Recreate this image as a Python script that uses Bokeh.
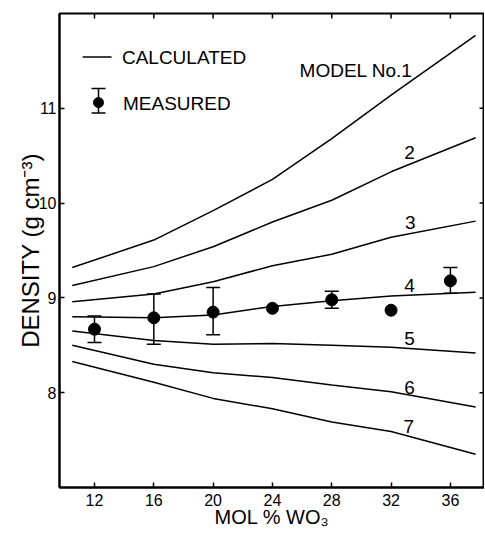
from bokeh.plotting import figure
from bokeh.models import Range1d, FixedTicker, Whisker, ColumnDataSource, TeeHead
from bokeh.core.properties import value
from bokeh.embed import file_html
from bokeh.resources import INLINE

# ---------------- data ----------------
mol = [10.5, 16, 20, 24, 28, 32, 37.7]
model_1 = [9.32, 9.61, 9.92, 10.25, 10.68, 11.14, 11.77]
model_2 = [9.13, 9.33, 9.54, 9.80, 10.03, 10.33, 10.69]
model_3 = [8.96, 9.04, 9.17, 9.34, 9.46, 9.64, 9.81]
model_4 = [8.80, 8.79, 8.82, 8.91, 8.97, 9.02, 9.06]
model_5 = [8.65, 8.55, 8.51, 8.52, 8.50, 8.48, 8.42]
model_6 = [8.50, 8.30, 8.21, 8.16, 8.08, 8.01, 7.85]
model_7 = [8.33, 8.11, 7.94, 7.83, 7.69, 7.59, 7.35]

meas_x = [12, 16, 20, 24, 28, 32, 36]
meas_y = [8.67, 8.79, 8.85, 8.89, 8.98, 8.87, 9.18]
err_lo = [8.53, 8.51, 8.61, None, 8.89, None, 9.05]
err_hi = [8.81, 9.04, 9.11, None, 9.07, None, 9.32]

x_ticks = [12, 16, 20, 24, 28, 32, 36]
y_ticks = [8, 9, 10, 11]

model_label_first = "MODEL No.1"
model_labels = ["2", "3", "4", "5", "6", "7"]
model_label_x = [33.25, 33.3, 33.25, 33.25, 33.25, 33.2]
model_label_y = [10.53, 9.80, 9.13, 8.57, 8.06, 7.64]

# ---------------- layout constants ----------------
FONT = "Liberation Sans"
X0, X1 = 9.64, 38.3
Y0, Y1 = 7.0, 12.0
FRAME_W, FRAME_H = 425, 474
TICK_PX = 5
LEG_LINE_X = [11.2, 13.15]
LEG_LINE_Y = 11.54
LEG_TEXT_X = 13.85
LEG_MARK_X = 12.27
LEG_MARK_Y = 11.06
LEG_MARK_LO = 10.95
LEG_MARK_HI = 11.21
LEG_TEXT2_Y = 11.05

p = figure(width=484, height=534,
           x_range=Range1d(X0, X1), y_range=Range1d(Y0, Y1),
           output_backend="svg", toolbar_location=None,
           min_border_left=59, min_border_top=13, min_border_right=0, min_border_bottom=47)
p.grid.visible = False
p.outline_line_color = "black"
p.outline_line_width = 2
p.background_fill_color = "white"
p.border_fill_color = "white"

for ax in [p.xaxis[0], p.yaxis[0]]:
    ax.axis_line_width = 2
    ax.axis_line_color = "black"
    ax.major_tick_in = TICK_PX
    ax.major_tick_out = 0
    ax.major_tick_line_width = 1.5
    ax.minor_tick_line_color = None
    ax.major_label_text_font = FONT
    ax.major_label_text_font_size = "16px"
    ax.major_label_text_color = "black"
    ax.axis_label_text_font = FONT
    ax.axis_label_text_font_style = "normal"
    ax.axis_label_text_color = "black"

p.xaxis.ticker = FixedTicker(ticks=x_ticks)
p.yaxis.ticker = FixedTicker(ticks=y_ticks)
p.xaxis.axis_label = "MOL % WO₃"
p.yaxis.axis_label = "DENSITY (g cm⁻³)"
p.xaxis.axis_label_text_font_size = "20px"
p.yaxis.axis_label_text_font_size = "24px"
p.xaxis.major_label_standoff = 6
p.xaxis.axis_label_standoff = -3
p.yaxis.major_label_standoff = 3
p.yaxis.axis_label_standoff = -8

# inward ticks on top and right frame edges, placed from the tick lists
dx = (X1 - X0) / FRAME_W * TICK_PX
dy = (Y1 - Y0) / FRAME_H * TICK_PX
p.segment(x0=x_ticks, x1=x_ticks, y0=[Y1] * len(x_ticks), y1=[Y1 - dy] * len(x_ticks),
          line_color="black", line_width=1.5)
p.segment(x0=[X1] * len(y_ticks), x1=[X1 - dx] * len(y_ticks), y0=y_ticks, y1=y_ticks,
          line_color="black", line_width=1.5)

for ys in [model_1, model_2, model_3, model_4, model_5, model_6, model_7]:
    p.line(mol, ys, line_color="black", line_width=1.5)

# measured
bars = [(x, lo, hi) for x, lo, hi in zip(meas_x, err_lo, err_hi) if lo is not None]
src = ColumnDataSource(dict(x=[b[0] for b in bars], lo=[b[1] for b in bars], hi=[b[2] for b in bars]))
p.add_layout(Whisker(source=src, base="x", lower="lo", upper="hi", dimension="height",
                     line_color="black", line_width=1.5,
                     upper_head=TeeHead(size=14, line_width=1.5, line_color="black"),
                     lower_head=TeeHead(size=14, line_width=1.5, line_color="black")))
p.scatter(meas_x, meas_y, size=12, marker="circle", fill_color="black", line_color="black")

# model labels
p.text([33.45], [11.40], text=[model_label_first], text_font=value(FONT), text_font_size=value("19px"),
       text_align="right", text_baseline="middle", text_color="black")
p.text(model_label_x, model_label_y, text=model_labels, text_font=value(FONT), text_font_size=value("19px"),
       text_align="center", text_baseline="middle", text_color="black")

# legend
p.line(LEG_LINE_X, [LEG_LINE_Y, LEG_LINE_Y], line_color="black", line_width=1.5)
p.text([LEG_TEXT_X], [LEG_LINE_Y], text=["CALCULATED"], text_font=value(FONT), text_font_size=value("19px"),
       text_align="left", text_baseline="middle", text_color="black")
lsrc = ColumnDataSource(dict(x=[LEG_MARK_X], lo=[LEG_MARK_LO], hi=[LEG_MARK_HI]))
p.add_layout(Whisker(source=lsrc, base="x", lower="lo", upper="hi", dimension="height",
                     line_color="black", line_width=1.5,
                     upper_head=TeeHead(size=14, line_width=1.5, line_color="black"),
                     lower_head=TeeHead(size=14, line_width=1.5, line_color="black")))
p.scatter([LEG_MARK_X], [LEG_MARK_Y], size=10, marker="circle", fill_color="black", line_color="black")
p.text([LEG_TEXT_X + 0.07], [LEG_TEXT2_Y], text=["MEASURED"], text_font=value(FONT), text_font_size=value("19px"),
       text_align="left", text_baseline="middle", text_color="black")

open("out.html", "w").write(file_html(p, INLINE))
